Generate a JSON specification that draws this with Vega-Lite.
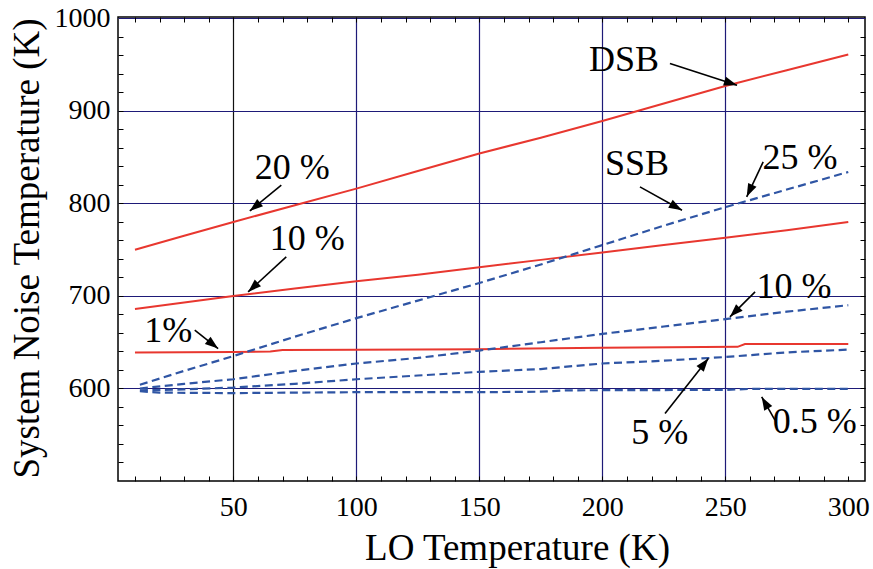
{
  "$schema": "https://vega.github.io/schema/vega-lite/v6.json",
  "width": 747,
  "height": 464,
  "autosize": {"type": "none"},
  "padding": {"left": 118, "top": 17, "right": 8, "bottom": 88},
  "background": "white",
  "config": {
    "view": {"stroke": "black", "strokeWidth": 1.5},
    "font": "Liberation Serif",
    "style": {"guide-label": {"font": "Liberation Serif"}, "guide-title": {"font": "Liberation Serif"}},
    "axis": {"labelFont": "Liberation Serif", "titleFont": "Liberation Serif", "labelColor": "black", "titleColor": "black", "titleFontWeight": "normal", "labelFlush": false, "labelOverlap": false}
  },
  "datasets": {
    "red": [
      {"series": "DSB 20 %", "x": 10, "y": 750}, {"series": "DSB 20 %", "x": 30, "y": 765}, {"series": "DSB 20 %", "x": 50, "y": 780}, {"series": "DSB 20 %", "x": 75, "y": 798}, {"series": "DSB 20 %", "x": 100, "y": 816}, {"series": "DSB 20 %", "x": 125, "y": 835}, {"series": "DSB 20 %", "x": 150, "y": 854}, {"series": "DSB 20 %", "x": 175, "y": 871}, {"series": "DSB 20 %", "x": 200, "y": 889}, {"series": "DSB 20 %", "x": 225, "y": 908}, {"series": "DSB 20 %", "x": 250, "y": 927}, {"series": "DSB 20 %", "x": 275, "y": 944}, {"series": "DSB 20 %", "x": 300, "y": 961},
      {"series": "DSB 10 %", "x": 10, "y": 686}, {"series": "DSB 10 %", "x": 30, "y": 693}, {"series": "DSB 10 %", "x": 50, "y": 700}, {"series": "DSB 10 %", "x": 75, "y": 708}, {"series": "DSB 10 %", "x": 100, "y": 716}, {"series": "DSB 10 %", "x": 125, "y": 723}, {"series": "DSB 10 %", "x": 150, "y": 731}, {"series": "DSB 10 %", "x": 175, "y": 739}, {"series": "DSB 10 %", "x": 200, "y": 747}, {"series": "DSB 10 %", "x": 225, "y": 755}, {"series": "DSB 10 %", "x": 250, "y": 763}, {"series": "DSB 10 %", "x": 275, "y": 771}, {"series": "DSB 10 %", "x": 300, "y": 780},
      {"series": "DSB 1 %", "x": 10, "y": 639}, {"series": "DSB 1 %", "x": 50, "y": 639.5}, {"series": "DSB 1 %", "x": 65, "y": 640}, {"series": "DSB 1 %", "x": 70, "y": 641.5}, {"series": "DSB 1 %", "x": 100, "y": 641.8}, {"series": "DSB 1 %", "x": 150, "y": 642.5}, {"series": "DSB 1 %", "x": 200, "y": 644}, {"series": "DSB 1 %", "x": 255, "y": 645}, {"series": "DSB 1 %", "x": 258, "y": 648}, {"series": "DSB 1 %", "x": 300, "y": 648}
    ],
    "blue": [
      {"series": "SSB 25 %", "x": 12, "y": 604}, {"series": "SSB 25 %", "x": 30, "y": 619}, {"series": "SSB 25 %", "x": 50, "y": 635}, {"series": "SSB 25 %", "x": 75, "y": 656}, {"series": "SSB 25 %", "x": 100, "y": 676}, {"series": "SSB 25 %", "x": 125, "y": 695}, {"series": "SSB 25 %", "x": 150, "y": 714}, {"series": "SSB 25 %", "x": 175, "y": 734}, {"series": "SSB 25 %", "x": 200, "y": 755}, {"series": "SSB 25 %", "x": 225, "y": 776}, {"series": "SSB 25 %", "x": 250, "y": 796}, {"series": "SSB 25 %", "x": 275, "y": 815}, {"series": "SSB 25 %", "x": 300, "y": 834},
      {"series": "SSB 10 %", "x": 12, "y": 600}, {"series": "SSB 10 %", "x": 30, "y": 605}, {"series": "SSB 10 %", "x": 50, "y": 610}, {"series": "SSB 10 %", "x": 75, "y": 619}, {"series": "SSB 10 %", "x": 100, "y": 627}, {"series": "SSB 10 %", "x": 125, "y": 633}, {"series": "SSB 10 %", "x": 150, "y": 641}, {"series": "SSB 10 %", "x": 175, "y": 650}, {"series": "SSB 10 %", "x": 200, "y": 659}, {"series": "SSB 10 %", "x": 225, "y": 667}, {"series": "SSB 10 %", "x": 250, "y": 675}, {"series": "SSB 10 %", "x": 275, "y": 683}, {"series": "SSB 10 %", "x": 300, "y": 690},
      {"series": "SSB 5 %", "x": 12, "y": 598}, {"series": "SSB 5 %", "x": 30, "y": 599}, {"series": "SSB 5 %", "x": 50, "y": 601}, {"series": "SSB 5 %", "x": 75, "y": 605}, {"series": "SSB 5 %", "x": 100, "y": 610}, {"series": "SSB 5 %", "x": 125, "y": 614}, {"series": "SSB 5 %", "x": 150, "y": 618}, {"series": "SSB 5 %", "x": 175, "y": 621}, {"series": "SSB 5 %", "x": 200, "y": 627}, {"series": "SSB 5 %", "x": 225, "y": 630}, {"series": "SSB 5 %", "x": 250, "y": 634}, {"series": "SSB 5 %", "x": 275, "y": 639}, {"series": "SSB 5 %", "x": 300, "y": 642},
      {"series": "SSB 0.5 %", "x": 12, "y": 597}, {"series": "SSB 0.5 %", "x": 20, "y": 595.5}, {"series": "SSB 0.5 %", "x": 50, "y": 595}, {"series": "SSB 0.5 %", "x": 100, "y": 596}, {"series": "SSB 0.5 %", "x": 150, "y": 596}, {"series": "SSB 0.5 %", "x": 175, "y": 596.5}, {"series": "SSB 0.5 %", "x": 185, "y": 598}, {"series": "SSB 0.5 %", "x": 250, "y": 598.5}, {"series": "SSB 0.5 %", "x": 260, "y": 599.5}, {"series": "SSB 0.5 %", "x": 300, "y": 599.5}
    ],
    "labels": [
      {"label": "DSB", "x": 208.8, "y": 954.8},
      {"label": "SSB", "x": 214.1, "y": 842.4},
      {"label": "25 %", "x": 280.4, "y": 848.9},
      {"label": "20 %", "x": 73.9, "y": 838.1},
      {"label": "10 %", "x": 80.0, "y": 761.4},
      {"label": "1%", "x": 23.5, "y": 661.9},
      {"label": "10 %", "x": 277.9, "y": 709.5},
      {"label": "5 %", "x": 223.4, "y": 551.7},
      {"label": "0.5 %", "x": 286.4, "y": 563.6}
    ],
    "arrows": [
      {"label": "DSB", "x": 227.5, "y": 951.2, "x2": 254.8, "y2": 927.8},
      {"label": "SSB", "x": 215.3, "y": 817.9, "x2": 232.4, "y2": 792.7},
      {"label": "25 %", "x": 265.4, "y": 844.9, "x2": 258.7, "y2": 807.1},
      {"label": "20 %", "x": 69.5, "y": 819.7, "x2": 56.7, "y2": 791.9},
      {"label": "10 % DSB", "x": 71.5, "y": 742.2, "x2": 56.0, "y2": 704.4},
      {"label": "1%", "x": 34.3, "y": 663.0, "x2": 43.8, "y2": 643.2},
      {"label": "10 % SSB", "x": 262.1, "y": 704.4, "x2": 251.9, "y2": 677.4},
      {"label": "5 %", "x": 225.5, "y": 573.0, "x2": 243.1, "y2": 632.4},
      {"label": "0.5 %", "x": 270.2, "y": 565.7, "x2": 264.8, "y2": 590.9}
    ]
  },
  "resolve": {"axis": {"x": "independent", "y": "independent"}},
  "layer": [
    {
      "data": {"name": "red"},
      "mark": {"type": "line", "color": "#e8372f", "strokeWidth": 2},
      "encoding": {
        "x": {"field": "x", "type": "quantitative", "scale": {"domain": [3.1, 306.8], "nice": false, "zero": false},
          "axis": {"orient": "bottom", "values": [50, 100, 150, 200, 250, 300], "format": "d", "ticks": false, "domain": false, "grid": true,
            "gridColor": {"condition": {"test": "datum.value === 50", "value": "#111111"}, "value": "#1e1a78"},
            "gridOpacity": {"condition": {"test": "datum.value === 300", "value": 0}, "value": 1}, "gridWidth": 1.2,
            "labelFont": "Liberation Serif", "labelFontSize": 28, "labelPadding": 12, "labelColor": "black",
            "encode": {"labels": {"update": {"font": {"value": "Liberation Serif"}}}},
            "title": "LO Temperature (K)", "titleFont": "Liberation Serif", "titleFontSize": 37, "titleX": 399, "titleY": 78, "titleAlign": "center", "titleBaseline": "alphabetic"}},
        "y": {"field": "y", "type": "quantitative", "scale": {"domain": [500, 1001.5], "nice": false, "zero": false},
          "axis": {"orient": "left", "values": [600, 700, 800, 900, 1000], "format": "d", "ticks": false, "domain": false, "grid": true, "gridColor": "#1e1a78", "gridWidth": 1.2, "gridOpacity": 1,
            "labelFont": "Liberation Serif", "labelFontSize": 28, "labelPadding": 8, "labelColor": "black",
            "encode": {"labels": {"update": {"font": {"value": "Liberation Serif"}}}},
            "title": "System Noise Temperature (K)", "titleFont": "Liberation Serif", "titleFontSize": 37, "titleAngle": -90, "titleX": -80, "titleY": 231, "titleAlign": "center", "titleBaseline": "alphabetic"}},
        "detail": {"field": "series"}
      }
    },
    {
      "data": {"name": "blue"},
      "mark": {"type": "line", "color": "#2f55a4", "strokeWidth": 2.2, "strokeDash": [8, 4.5]},
      "encoding": {
        "x": {"field": "x", "type": "quantitative", "scale": {"domain": [3.1, 306.8], "nice": false, "zero": false},
          "axis": {"orient": "bottom", "offset": -5, "values": [10,20,30,40,50,60,70,80,90,100,110,120,130,140,150,160,170,180,190,200,210,220,230,240,250,260,270,280,290,300], "labels": false, "ticks": true, "tickSize": 5, "tickColor": "black", "tickWidth": 1, "domain": false, "grid": false, "title": null}},
        "y": {"field": "y", "type": "quantitative", "scale": {"domain": [500, 1001.5], "nice": false, "zero": false},
          "axis": {"orient": "left", "offset": -5, "values": [520,540,560,580,600,620,640,660,680,700,720,740,760,780,800,820,840,860,880,900,920,940,960,980], "labels": false, "ticks": true, "tickSize": 5, "tickColor": "black", "tickWidth": 1, "domain": false, "grid": false, "title": null}},
        "detail": {"field": "series"}
      }
    },
    {
      "data": {"name": "labels"},
      "mark": {"type": "text", "font": "Liberation Serif", "fontSize": 36, "align": "center", "baseline": "middle", "color": "black"},
      "encoding": {
        "x": {"field": "x", "type": "quantitative", "scale": {"domain": [3.1, 306.8], "nice": false, "zero": false},
          "axis": {"orient": "top", "offset": -5, "values": [10,20,30,40,50,60,70,80,90,100,110,120,130,140,150,160,170,180,190,200,210,220,230,240,250,260,270,280,290,300], "labels": false, "ticks": true, "tickSize": 5, "tickColor": "black", "tickWidth": 1, "domain": false, "grid": false, "title": null}},
        "y": {"field": "y", "type": "quantitative", "scale": {"domain": [500, 1001.5], "nice": false, "zero": false},
          "axis": {"orient": "right", "offset": -5, "values": [520,540,560,580,600,620,640,660,680,700,720,740,760,780,800,820,840,860,880,900,920,940,960,980], "labels": false, "ticks": true, "tickSize": 5, "tickColor": "black", "tickWidth": 1, "domain": false, "grid": false, "title": null}},
        "text": {"field": "label"}
      }
    },
    {
      "data": {"name": "arrows"},
      "mark": {"type": "rule", "color": "black", "strokeWidth": 1.6},
      "encoding": {
        "x": {"field": "x", "type": "quantitative", "scale": {"domain": [3.1, 306.8], "nice": false, "zero": false}, "axis": null},
        "y": {"field": "y", "type": "quantitative", "scale": {"domain": [500, 1001.5], "nice": false, "zero": false}, "axis": null},
        "x2": {"field": "x2"},
        "y2": {"field": "y2"}
      }
    },
    {
      "data": {"name": "arrows"},
      "transform": [{"calculate": "atan2((datum.x2 - datum.x) * 2.46, (datum.y2 - datum.y) * 0.9253) * 180 / PI", "as": "ang"}],
      "mark": {"type": "point", "shape": "M0,0L-0.35,1L0.35,1Z", "filled": true, "color": "black", "opacity": 1, "size": 700, "strokeWidth": 0},
      "encoding": {
        "x": {"field": "x2", "type": "quantitative", "scale": {"domain": [3.1, 306.8], "nice": false, "zero": false}, "axis": null},
        "y": {"field": "y2", "type": "quantitative", "scale": {"domain": [500, 1001.5], "nice": false, "zero": false}, "axis": null},
        "angle": {"field": "ang", "type": "quantitative", "scale": null}
      }
    }
  ]
}
